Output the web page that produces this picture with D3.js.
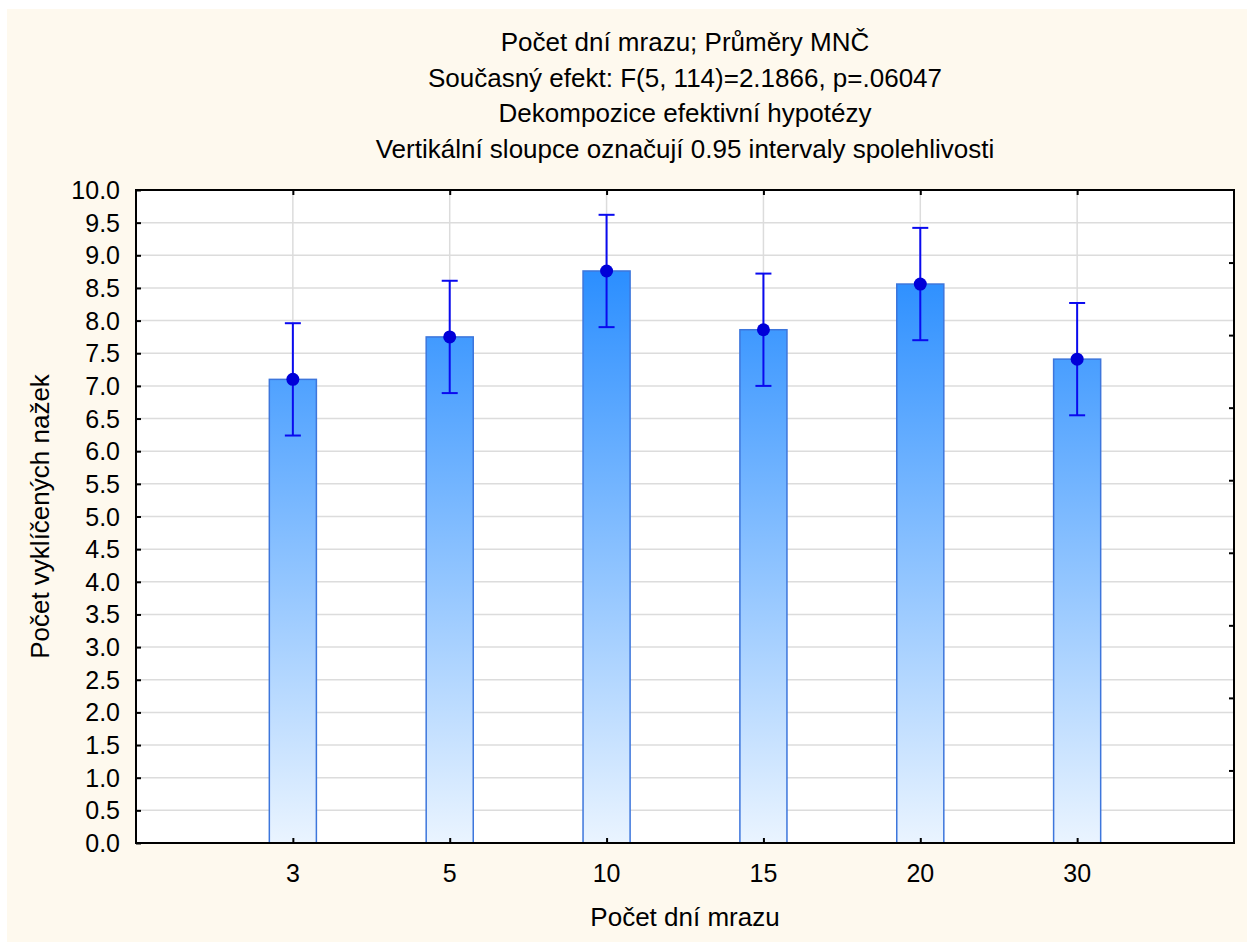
<!DOCTYPE html>
<html>
<head>
<meta charset="utf-8">
<script src="https://cdn.jsdelivr.net/npm/d3@7"></script>
<style>
    body { margin: 0; background: #ffffff; }
    text { font-family: "Liberation Sans", Arial, sans-serif; fill: #000; }
    .grid line { stroke: #dcdcdc; stroke-width: 1.5; }
    .axis path, .axis line { stroke: #000; }
</style>
</head>
<body>
<div id="chart-area"></div>
<script>
// chart values
let categories = ["3", "5", "10", "15", "20", "30"];
let means = [7.10, 7.75, 8.76, 7.86, 8.56, 7.41];
let lowerCI = [6.24, 6.89, 7.90, 7.00, 7.70, 6.55];
let upperCI = [7.96, 8.61, 9.62, 8.72, 9.42, 8.27];
let yTicks = d3.range(0, 10.01, 0.5);

let titleLines = [
    "Počet dní mrazu; Průměry MNČ",
    "Současný efekt: F(5, 114)=2.1866, p=.06047",
    "Dekompozice efektivní hypotézy",
    "Vertikální sloupce označují 0.95 intervaly spolehlivosti"
];
let xTitle = "Počet dní mrazu";
let yTitle = "Počet vyklíčených nažek";

class MeansVis {

    constructor(_parentElement) {
        this.parentElement = _parentElement;
        this.data = categories.map(function (c, i) {
            return { cat: c, mean: means[i], lo: lowerCI[i], hi: upperCI[i] };
        });
        this.initVis();
    }

    initVis() {
        let vis = this;

        vis.margin = { top: 190, right: 15, bottom: 99, left: 136 };
        vis.totalWidth = 1249;
        vis.totalHeight = 942;
        vis.width = vis.totalWidth - vis.margin.left - vis.margin.right;
        vis.height = vis.totalHeight - vis.margin.top - vis.margin.bottom;

        vis.root = d3.select("#" + vis.parentElement).append("svg")
            .attr("width", vis.totalWidth)
            .attr("height", vis.totalHeight);

        // cream page background
        vis.root.append("rect")
            .attr("x", 7)
            .attr("y", 9)
            .attr("width", vis.totalWidth - 9)
            .attr("height", vis.totalHeight - 9)
            .attr("fill", "#fef9ee");

        // titles
        vis.root.selectAll(".title-line")
            .data(titleLines)
            .enter().append("text")
            .attr("class", "title-line")
            .attr("x", vis.margin.left + vis.width / 2)
            .attr("y", function (d, i) { return 51 + i * 35.5; })
            .attr("text-anchor", "middle")
            .style("font-size", "26px")
            .text(function (d) { return d; });

        vis.svg = vis.root.append("g")
            .attr("transform", "translate(" + vis.margin.left + "," + vis.margin.top + ")");

        vis.svg.append("rect")
            .attr("width", vis.width)
            .attr("height", vis.height)
            .attr("fill", "#fff");

        vis.x = d3.scalePoint()
            .domain(categories)
            .range([0, vis.width])
            .padding(1);

        vis.y = d3.scaleLinear()
            .domain([0, 10])
            .range([vis.height, 0]);

        // gradient for bars, spans the whole plot height
        let grad = vis.svg.append("defs").append("linearGradient")
            .attr("id", "barGrad")
            .attr("gradientUnits", "userSpaceOnUse")
            .attr("x1", 0).attr("x2", 0)
            .attr("y1", vis.y(10)).attr("y2", vis.y(0));
        grad.append("stop").attr("offset", "0%").attr("stop-color", "#1080ff");
        grad.append("stop").attr("offset", "100%").attr("stop-color", "#eaf4ff");

        // grid
        vis.svg.append("g")
            .attr("class", "grid")
            .selectAll("line.h")
            .data(yTicks.slice(1, -1))
            .enter().append("line")
            .attr("x1", 0).attr("x2", vis.width)
            .attr("y1", function (d) { return vis.y(d); })
            .attr("y2", function (d) { return vis.y(d); });

        vis.svg.append("g")
            .attr("class", "grid")
            .selectAll("line.v")
            .data(categories)
            .enter().append("line")
            .attr("y1", 0).attr("y2", vis.height)
            .attr("x1", function (d) { return vis.x(d); })
            .attr("x2", function (d) { return vis.x(d); });

        vis.barWidth = vis.x.step() * 0.3;

        vis.wrangleData();
    }

    wrangleData() {
        let vis = this;
        vis.displayData = vis.data;
        vis.updateVis();
    }

    updateVis() {
        let vis = this;

        vis.svg.selectAll(".bar")
            .data(vis.displayData)
            .enter().append("rect")
            .attr("class", "bar")
            .attr("x", function (d) { return vis.x(d.cat) - vis.barWidth / 2; })
            .attr("y", function (d) { return vis.y(d.mean); })
            .attr("width", vis.barWidth)
            .attr("height", function (d) { return vis.height - vis.y(d.mean); })
            .attr("fill", "url(#barGrad)")
            .attr("stroke", "#3d76dc")
            .attr("stroke-width", 1.5);

        let err = vis.svg.selectAll(".err")
            .data(vis.displayData)
            .enter().append("g")
            .attr("class", "err")
            .attr("stroke", "#0a0aef")
            .attr("stroke-width", 2);

        err.append("line")
            .attr("x1", function (d) { return vis.x(d.cat); })
            .attr("x2", function (d) { return vis.x(d.cat); })
            .attr("y1", function (d) { return vis.y(d.lo); })
            .attr("y2", function (d) { return vis.y(d.hi); });

        ["lo", "hi"].forEach(function (k) {
            err.append("line")
                .attr("x1", function (d) { return vis.x(d.cat) - 8; })
                .attr("x2", function (d) { return vis.x(d.cat) + 8; })
                .attr("y1", function (d) { return vis.y(d[k]); })
                .attr("y2", function (d) { return vis.y(d[k]); });
        });

        vis.svg.selectAll(".dot")
            .data(vis.displayData)
            .enter().append("circle")
            .attr("class", "dot")
            .attr("cx", function (d) { return vis.x(d.cat); })
            .attr("cy", function (d) { return vis.y(d.mean); })
            .attr("r", 6.5)
            .attr("fill", "#0000d8");

        // axes, ticks pointing inward
        let yAxis = d3.axisRight(vis.y)
            .tickValues(yTicks)
            .tickSize(5)
            .tickFormat("");
        vis.svg.append("g")
            .attr("class", "axis")
            .call(yAxis)
            .call(function (g) { g.select(".domain").remove(); });

        vis.svg.append("g")
            .selectAll("text")
            .data(yTicks)
            .enter().append("text")
            .attr("x", -16)
            .attr("y", function (d) { return vis.y(d); })
            .attr("dy", "0.36em")
            .attr("text-anchor", "end")
            .style("font-size", "25px")
            .text(function (d) { return d3.format(".1f")(d); });

        let xAxis = d3.axisTop(vis.x)
            .tickSize(5)
            .tickFormat("");
        vis.svg.append("g")
            .attr("class", "axis")
            .attr("transform", "translate(0," + vis.height + ")")
            .call(xAxis)
            .call(function (g) { g.select(".domain").remove(); });

        vis.svg.append("g")
            .attr("class", "axis")
            .call(d3.axisBottom(vis.x).tickSize(5).tickFormat(""))
            .call(function (g) { g.select(".domain").remove(); });

        vis.svg.append("g")
            .selectAll("text")
            .data(categories)
            .enter().append("text")
            .attr("x", function (d) { return vis.x(d); })
            .attr("y", vis.height + 39)
            .attr("text-anchor", "middle")
            .style("font-size", "25px")
            .text(function (d) { return d; });

        // right side: unlabeled ticks splitting the axis into nine parts
        vis.svg.append("g")
            .attr("class", "axis")
            .attr("transform", "translate(" + vis.width + ",0)")
            .call(d3.axisLeft(d3.scaleLinear().domain([0, 9]).range([vis.height, 0]))
                .tickValues(d3.range(1, 9))
                .tickSize(5)
                .tickFormat(""))
            .call(function (g) { g.select(".domain").remove(); });

        // frame
        vis.svg.append("rect")
            .attr("width", vis.width)
            .attr("height", vis.height)
            .attr("fill", "none")
            .attr("stroke", "#000")
            .attr("stroke-width", 2);

        vis.svg.selectAll(".axis line").attr("stroke-width", 2);

        vis.root.append("text")
            .attr("x", vis.margin.left + vis.width / 2)
            .attr("y", 926)
            .attr("text-anchor", "middle")
            .style("font-size", "26px")
            .text(xTitle);

        vis.root.append("text")
            .attr("transform", "translate(49," + (vis.margin.top + vis.height / 2) + ") rotate(-90)")
            .attr("text-anchor", "middle")
            .style("font-size", "26px")
            .text(yTitle);
    }
}

let meansVis = new MeansVis("chart-area");
</script>
</body>
</html>
